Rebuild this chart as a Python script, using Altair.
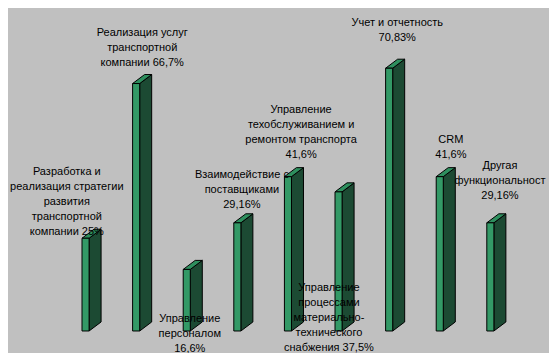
import altair as alt
import pandas as pd

# Data
categories = [
    "Разработка и реализация стратегии развития транспортной компании",
    "Реализация услуг транспортной компании",
    "Управление персоналом",
    "Взаимодействие с поставщиками",
    "Управление техобслуживанием и ремонтом транспорта",
    "Управление процессами материально-технического снабжения",
    "Учет и отчетность",
    "CRM",
    "Другая функциональность",
]
values = [25, 66.7, 16.6, 29.16, 41.6, 37.5, 70.83, 41.6, 29.16]
labels = [
    "Разработка и\nреализация стратегии\nразвития\nтранспортной\nкомпании 25%",
    "Реализация услуг\nтранспортной\nкомпании 66,7%",
    "Управление\nперсоналом\n16,6%",
    "Взаимодействие с\nпоставщиками\n29,16%",
    "Управление\nтехобслуживанием и\nремонтом транспорта\n41,6%",
    "Управление\nпроцессами\nматериально-\nтехнического\nснабжения 37,5%",
    "Учет и отчетность\n70,83%",
    "CRM\n41,6%",
    "Другая\nфункциональност\n29,16%",
]
# label anchor positions (category-index units, percent units)
label_x = [0.70, 2.19, 3.13, 4.16, 5.33, 5.88, 7.23, 8.29, 9.26]
label_y = [44.5, 81.9, 4.9, 43.7, 61.2, 13.2, 84.6, 53.1, 46.1]

# 3D styling (in data units)
FW = 0.14   # front face width
DX = 0.237  # depth in x
DY = 2.43   # depth in y

idx = list(range(1, len(values) + 1))

front = pd.DataFrame({
    "x": [i for i in idx],
    "x2": [i + FW for i in idx],
    "y": values,
    "y2": [0] * len(values),
})

side_rows = []
top_rows = []
for i, v in zip(idx, values):
    side_rows.append({"bar": i, "x": i + FW, "y": v, "y2": 0})
    side_rows.append({"bar": i, "x": i + FW + DX, "y": v + DY, "y2": DY})
    top_rows.append({"bar": i, "y": v, "x": i, "x2": i + FW})
    top_rows.append({"bar": i, "y": v + DY, "x": i + DX, "x2": i + FW + DX})
side = pd.DataFrame(side_rows)
top = pd.DataFrame(top_rows)

lab = pd.DataFrame({"x": label_x, "y": label_y, "t": labels})

xs = alt.Scale(domain=[-0.4625, 10.229], nice=False, zero=False)
ys = alt.Scale(domain=[-5.93, 87.06], nice=False, zero=False)

front_c = alt.Chart(front).mark_rect(
    color="#339966", stroke="black", strokeWidth=1
).encode(
    x=alt.X("x:Q", scale=xs, axis=None),
    x2="x2:Q",
    y=alt.Y("y:Q", scale=ys, axis=None),
    y2="y2:Q",
)

side_c = alt.Chart(side).mark_area(
    color="#1c4a33", stroke="black", strokeWidth=1, opacity=1
).encode(
    x=alt.X("x:Q", scale=xs, axis=None),
    y=alt.Y("y:Q", scale=ys, axis=None),
    y2="y2:Q",
    detail="bar:N",
)

top_c = alt.Chart(top).mark_area(
    orient="horizontal", color="#2e8f5e", stroke="black", strokeWidth=1, opacity=1
).encode(
    y=alt.Y("y:Q", scale=ys, axis=None),
    x=alt.X("x:Q", scale=xs, axis=None),
    x2="x2:Q",
    detail="bar:N",
)

text_c = alt.Chart(lab).mark_text(
    font="Liberation Sans", fontSize=11, lineHeight=15, align="center",
    baseline="top", color="black", lineBreak="\n"
).encode(
    x=alt.X("x:Q", scale=xs, axis=None),
    y=alt.Y("y:Q", scale=ys, axis=None),
    text="t:N",
)

chart = alt.layer(side_c, top_c, front_c, text_c).properties(
    width=541, height=345,
    autosize=alt.AutoSizeParams(type="none"),
    padding=0,
    background="#c0c0c0",
).configure_view(stroke=None)

chart.save("out.html", embed_options={"renderer": "svg", "actions": False})
